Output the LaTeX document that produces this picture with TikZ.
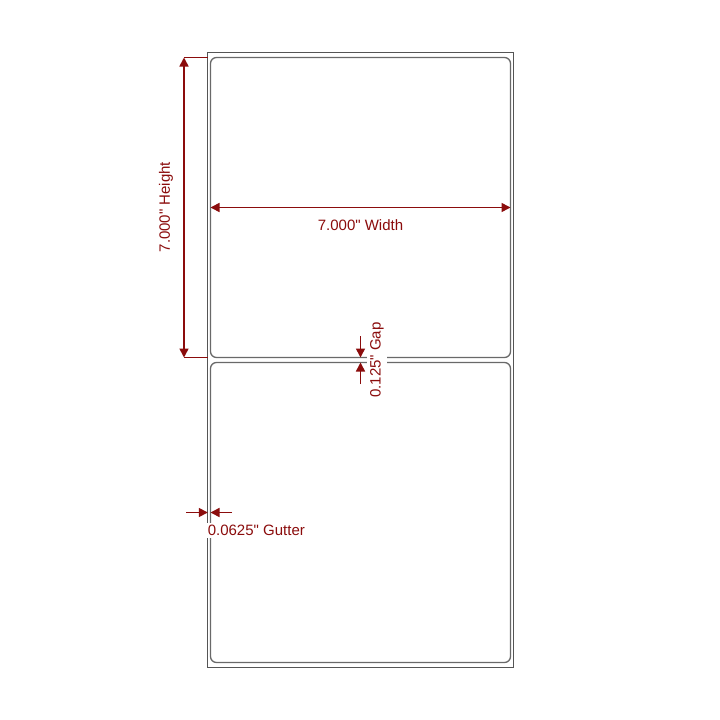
\documentclass[tikz,border=0pt]{standalone}
\usepackage{fontspec}
\setmainfont{Liberation Sans}[Ligatures=TeXOff]
\usetikzlibrary{arrows.meta}
\definecolor{dimred}{RGB}{139,12,12}
\definecolor{sheetgray}{RGB}{85,85,85}
\definecolor{labgray}{RGB}{105,105,105}
\newcommand{\qt}{\char34\relax}
\tikzset{
  sheetbox/.style={draw=sheetgray, line width=1.3pt, minimum width=305.4pt, minimum height=615.4pt, inner sep=0pt, outer sep=0pt},
  labelbox/.style={draw=labgray, line width=1.3pt, rounded corners=6pt, minimum width=300pt, minimum height=300pt, inner sep=0pt, outer sep=0pt},
  dimline/.style={draw=dimred, line width=1.6pt},
  dimarrow/.style={dimline, -{Triangle[length=9pt,width=9pt]}},
  dimboth/.style={dimline, {Triangle[length=9pt,width=9pt]}-{Triangle[length=9pt,width=9pt]}},
  dimtext/.style={text=dimred, font=\fontsize{15}{18}\selectfont},
}
\begin{document}
\begin{tikzpicture}[x=1pt,y=-1pt]
\useasboundingbox[fill=white] (0,0) rectangle (720,720);
% sheet and labels
\node[sheetbox] (sheet) at (360.5,360) {};
\node[labelbox] (lab1) at (360.5,207.5) {};
\node[labelbox] (lab2) at (360.5,512.5) {};
% width
\draw[dimboth] (lab1.west) -- (lab1.east);
\node[dimtext] (wtext) at (360.5,225.5) {7.000\qt{} Width};
% height
\coordinate (ht) at (184,57.5);
\coordinate (hb) at (184,357.5);
\draw[dimline] (ht) -- (sheet.west |- ht);
\draw[dimline] (hb) -- (sheet.west |- hb);
\draw[dimboth] (ht) -- (hb);
\node[dimtext, rotate=90] (htext) at (166,207) {7.000\qt{} Height};
% gutter
\coordinate (gutA) at (186,512.5);
\coordinate (gutB) at (232,512.5);
\draw[dimarrow] (gutA) -- (sheet.west |- gutA);
\draw[dimarrow] (gutB) -- (lab2.west |- gutB);
\node[dimtext, fill=white, anchor=west, inner xsep=0.8pt, inner ysep=2.6pt] (guttext) at (206.8,530.5) {0.0625\qt{} Gutter};
% gap
\coordinate (gapA) at (360.5,336);
\coordinate (gapB) at (360.5,384);
\draw[dimarrow] (gapA) -- (lab1.south);
\draw[dimarrow] (gapB) -- (lab2.north);
\node[dimtext, fill=white, rotate=90, inner xsep=1pt, inner ysep=3pt] (gaptext) at (377,360) {0.125\qt{} Gap};
\end{tikzpicture}
\end{document}
